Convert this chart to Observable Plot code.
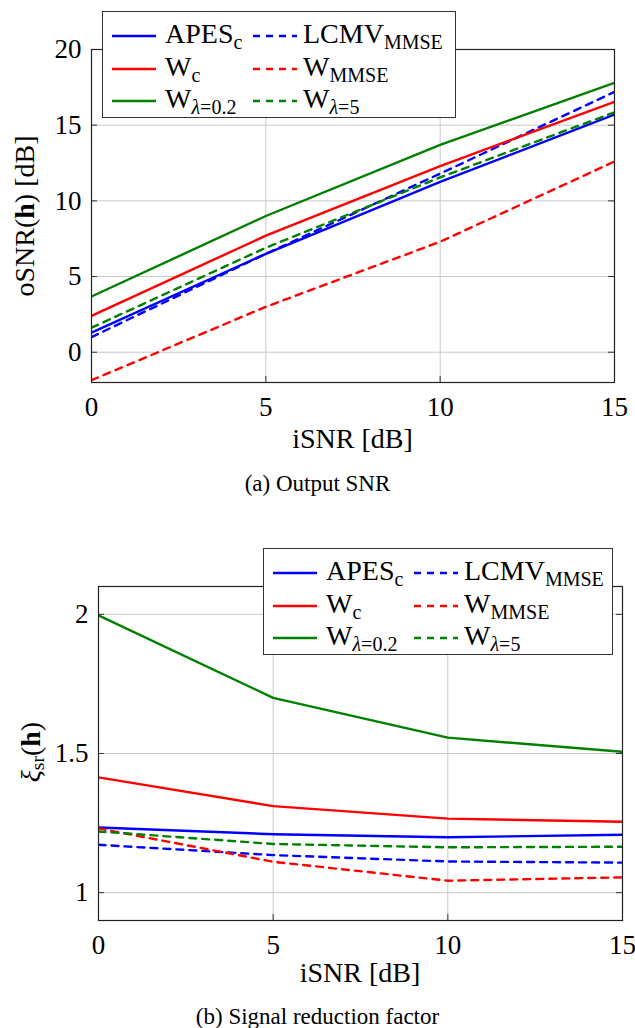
<!DOCTYPE html>
<html>
<head>
<meta charset="utf-8">
<script src="https://cdn.jsdelivr.net/npm/d3@7"></script>
<script src="https://cdn.jsdelivr.net/npm/@observablehq/plot@0.6"></script>
<style>
  html, body { margin: 0; padding: 0; background: #fff; }
  #root { position: relative; width: 635px; height: 1028px; font-family: "Liberation Serif", "DejaVu Serif", serif; color: #000; }
  .legend { position: absolute; background: #fff; border: 1px solid #333; box-sizing: border-box; }
  .leglab { position: absolute; font-size: 28px; line-height: 28px; white-space: nowrap; }
  .sub { font-size: 20px; position: relative; top: 6px; }
  .caption { position: absolute; width: 635px; text-align: center; font-size: 23px; line-height: 23px; }
</style>
</head>
<body>
<div id="root"></div>
<script>
// ---- data ----
const iSNR = [0, 5, 10, 15];
const xTicks = [0, 5, 10, 15];

const seriesNames = ["APES", "LCMV", "W", "W", "W", "W"];
const seriesSubs = ["c", "MMSE", "c", "MMSE", "λ=0.2", "λ=5"];
const seriesColors = ["#0000ff", "#0000ff", "#ff0000", "#ff0000", "#008000", "#008000"];
const seriesDashed = [false, true, false, true, false, true];

// (a) output SNR [dB]
const oSNR_APESc = [1.3, 6.5, 11.25, 15.7];
const oSNR_LCMV = [1.0, 6.5, 11.8, 17.2];
const oSNR_Wc = [2.4, 7.7, 12.3, 16.55];
const oSNR_WMMSE = [-1.85, 3.0, 7.3, 12.6];
const oSNR_W02 = [3.68, 9.0, 13.7, 17.8];
const oSNR_W5 = [1.62, 6.9, 11.55, 15.85];
const oSNRTicks = [0, 5, 10, 15, 20];

// (b) signal reduction factor
const xi_APESc = [1.234, 1.21, 1.199, 1.208];
const xi_LCMV = [1.172, 1.135, 1.112, 1.108];
const xi_Wc = [1.414, 1.311, 1.266, 1.255];
const xi_WMMSE = [1.231, 1.111, 1.043, 1.055];
const xi_W02 = [1.996, 1.70, 1.557, 1.506];
const xi_W5 = [1.22, 1.175, 1.163, 1.165];
const xiTicks = [1, 1.5, 2];

const FONT = '"Liberation Serif", "DejaVu Serif", serif';
const root = document.getElementById("root");

function toRows(seriesValues) {
  const rows = [];
  seriesValues.forEach((vals, s) => {
    vals.forEach((v, i) => rows.push({ s, x: iSNR[i], y: v }));
  });
  return rows;
}

function makeChart({ values, yDomain, yTicks, width, height, ml, mr, mt, mb }) {
  const rows = toRows(values);
  const innerW = width - ml - mr;
  const innerH = height - mt - mb;
  const lineMarks = values.map((_, s) =>
    Plot.line(rows.filter(d => d.s === s), {
      x: "x", y: "y",
      stroke: seriesColors[s],
      strokeWidth: 2.4,
      strokeDasharray: seriesDashed[s] ? "7,6" : null,
      clip: true
    })
  );
  return Plot.plot({
    width, height,
    marginLeft: ml, marginRight: mr, marginTop: mt, marginBottom: mb,
    style: { fontFamily: FONT, background: "transparent", overflow: "visible" },
    x: { domain: [0, 15] },
    y: { domain: yDomain },
    marks: [
      Plot.gridX(xTicks, { stroke: "#c8c8c8", strokeOpacity: 1, strokeWidth: 1 }),
      Plot.gridY(yTicks, { stroke: "#c8c8c8", strokeOpacity: 1, strokeWidth: 1 }),
      Plot.tickX(xTicks, { x: d => d, insetTop: innerH - 6, stroke: "#333" }),
      Plot.tickX(xTicks, { x: d => d, insetBottom: innerH - 6, stroke: "#333" }),
      Plot.tickY(yTicks, { y: d => d, insetRight: innerW - 6, stroke: "#333" }),
      Plot.tickY(yTicks, { y: d => d, insetLeft: innerW - 6, stroke: "#333" }),
      ...lineMarks,
      Plot.frame({ stroke: "#222", strokeWidth: 1.2 }),
      Plot.axisX(xTicks, { tickSize: 0, tickPadding: 14, fontSize: 27, fontFamily: FONT, fill: "#000", label: null, tickFormat: d => String(d) }),
      Plot.axisY(yTicks, { tickSize: 0, tickPadding: 10, fontSize: 27, fontFamily: FONT, fill: "#000", label: null, tickFormat: d => String(d) })
    ]
  });
}

function addLegend(left, top, width) {
  const lg = document.createElement("div");
  lg.className = "legend";
  lg.style.left = left + "px";
  lg.style.top = top + "px";
  lg.style.width = width + "px";
  lg.style.height = "107px";
  const rowCenters = [22, 55, 87];
  [0, 1, 2, 3, 4, 5].forEach((s, k) => {
    const row = Math.floor(k / 2), col = k % 2;
    const cy = rowCenters[row];
    const sx = col === 0 ? 9 : 150;
    const lx = col === 0 ? 62 : 200;
    const sv = document.createElementNS("http://www.w3.org/2000/svg", "svg");
    sv.setAttribute("width", 44); sv.setAttribute("height", 6);
    sv.style.position = "absolute"; sv.style.left = sx + "px"; sv.style.top = (cy - 3 + 2) + "px";
    const ln = document.createElementNS("http://www.w3.org/2000/svg", "line");
    ln.setAttribute("x1", 0); ln.setAttribute("x2", 44); ln.setAttribute("y1", 3); ln.setAttribute("y2", 3);
    ln.setAttribute("stroke", seriesColors[s]); ln.setAttribute("stroke-width", 2.4);
    if (seriesDashed[s]) ln.setAttribute("stroke-dasharray", "7,6");
    sv.appendChild(ln);
    lg.appendChild(sv);
    const lab = document.createElement("div");
    lab.className = "leglab";
    lab.style.left = lx + "px";
    lab.style.top = (cy - 14) + "px";
    const sub = seriesSubs[s].replace("λ", '<i>λ</i>');
    lab.innerHTML = seriesNames[s] + '<span class="sub">' + sub + '</span>';
    lg.appendChild(lab);
  });
  root.appendChild(lg);
}

function addText(svg, x, y, rotate, parts, size) {
  const t = d3.select(svg).append("text")
    .attr("transform", `translate(${x},${y})` + (rotate ? " rotate(-90)" : ""))
    .attr("text-anchor", "middle")
    .attr("font-family", FONT)
    .attr("font-size", size)
    .attr("fill", "#000")
    .attr("dominant-baseline", "central");
  parts.forEach(p => {
    const ts = t.append("tspan").text(p.t);
    if (p.b) ts.attr("font-weight", "bold");
    if (p.i) ts.attr("font-style", "italic");
    if (p.sub) ts.attr("font-size", size * 0.7).attr("dy", size * 0.25);
    if (p.up) ts.attr("dy", -size * 0.25);
  });
}

// ---- chart (a) ----
const A = { width: 635, height: 460, ml: 91, mr: 21, mt: 49, mb: 78 };
const svgA = makeChart({
  values: [oSNR_APESc, oSNR_LCMV, oSNR_Wc, oSNR_WMMSE, oSNR_W02, oSNR_W5],
  yDomain: [-2, 20], yTicks: oSNRTicks, ...A
});
svgA.style.position = "absolute"; svgA.style.left = "0px"; svgA.style.top = "0px";
root.appendChild(svgA);
addText(svgA, (A.ml + A.width - A.mr) / 2, 438, false, [{ t: "iSNR [dB]" }], 28);
addText(svgA, 24, 216, true, [{ t: "oSNR(" }, { t: "h", b: true }, { t: ") [dB]" }], 28);
addLegend(102, 11, 354);
const capA = document.createElement("div");
capA.className = "caption"; capA.style.top = "472px"; capA.textContent = "(a) Output SNR";
root.appendChild(capA);

// ---- chart (b) ----
const B = { width: 635, height: 500, ml: 98, mr: 13, mt: 86, mb: 80 };
const svgB = makeChart({
  values: [xi_APESc, xi_LCMV, xi_Wc, xi_WMMSE, xi_W02, xi_W5],
  yDomain: [0.9, 2.1], yTicks: xiTicks, ...B
});
svgB.style.position = "absolute"; svgB.style.left = "0px"; svgB.style.top = "500px";
root.appendChild(svgB);
addText(svgB, (B.ml + B.width - B.mr) / 2, 472, false, [{ t: "iSNR [dB]" }], 28);
addText(svgB, 30, 252, true, [{ t: "ξ", i: true }, { t: "sr", sub: true }, { t: "(", up: true }, { t: "h", b: true }, { t: ")" }], 28);
addLegend(263, 548, 350);
const capB = document.createElement("div");
capB.className = "caption"; capB.style.top = "1005px"; capB.textContent = "(b) Signal reduction factor";
root.appendChild(capB);
</script>
</body>
</html>
